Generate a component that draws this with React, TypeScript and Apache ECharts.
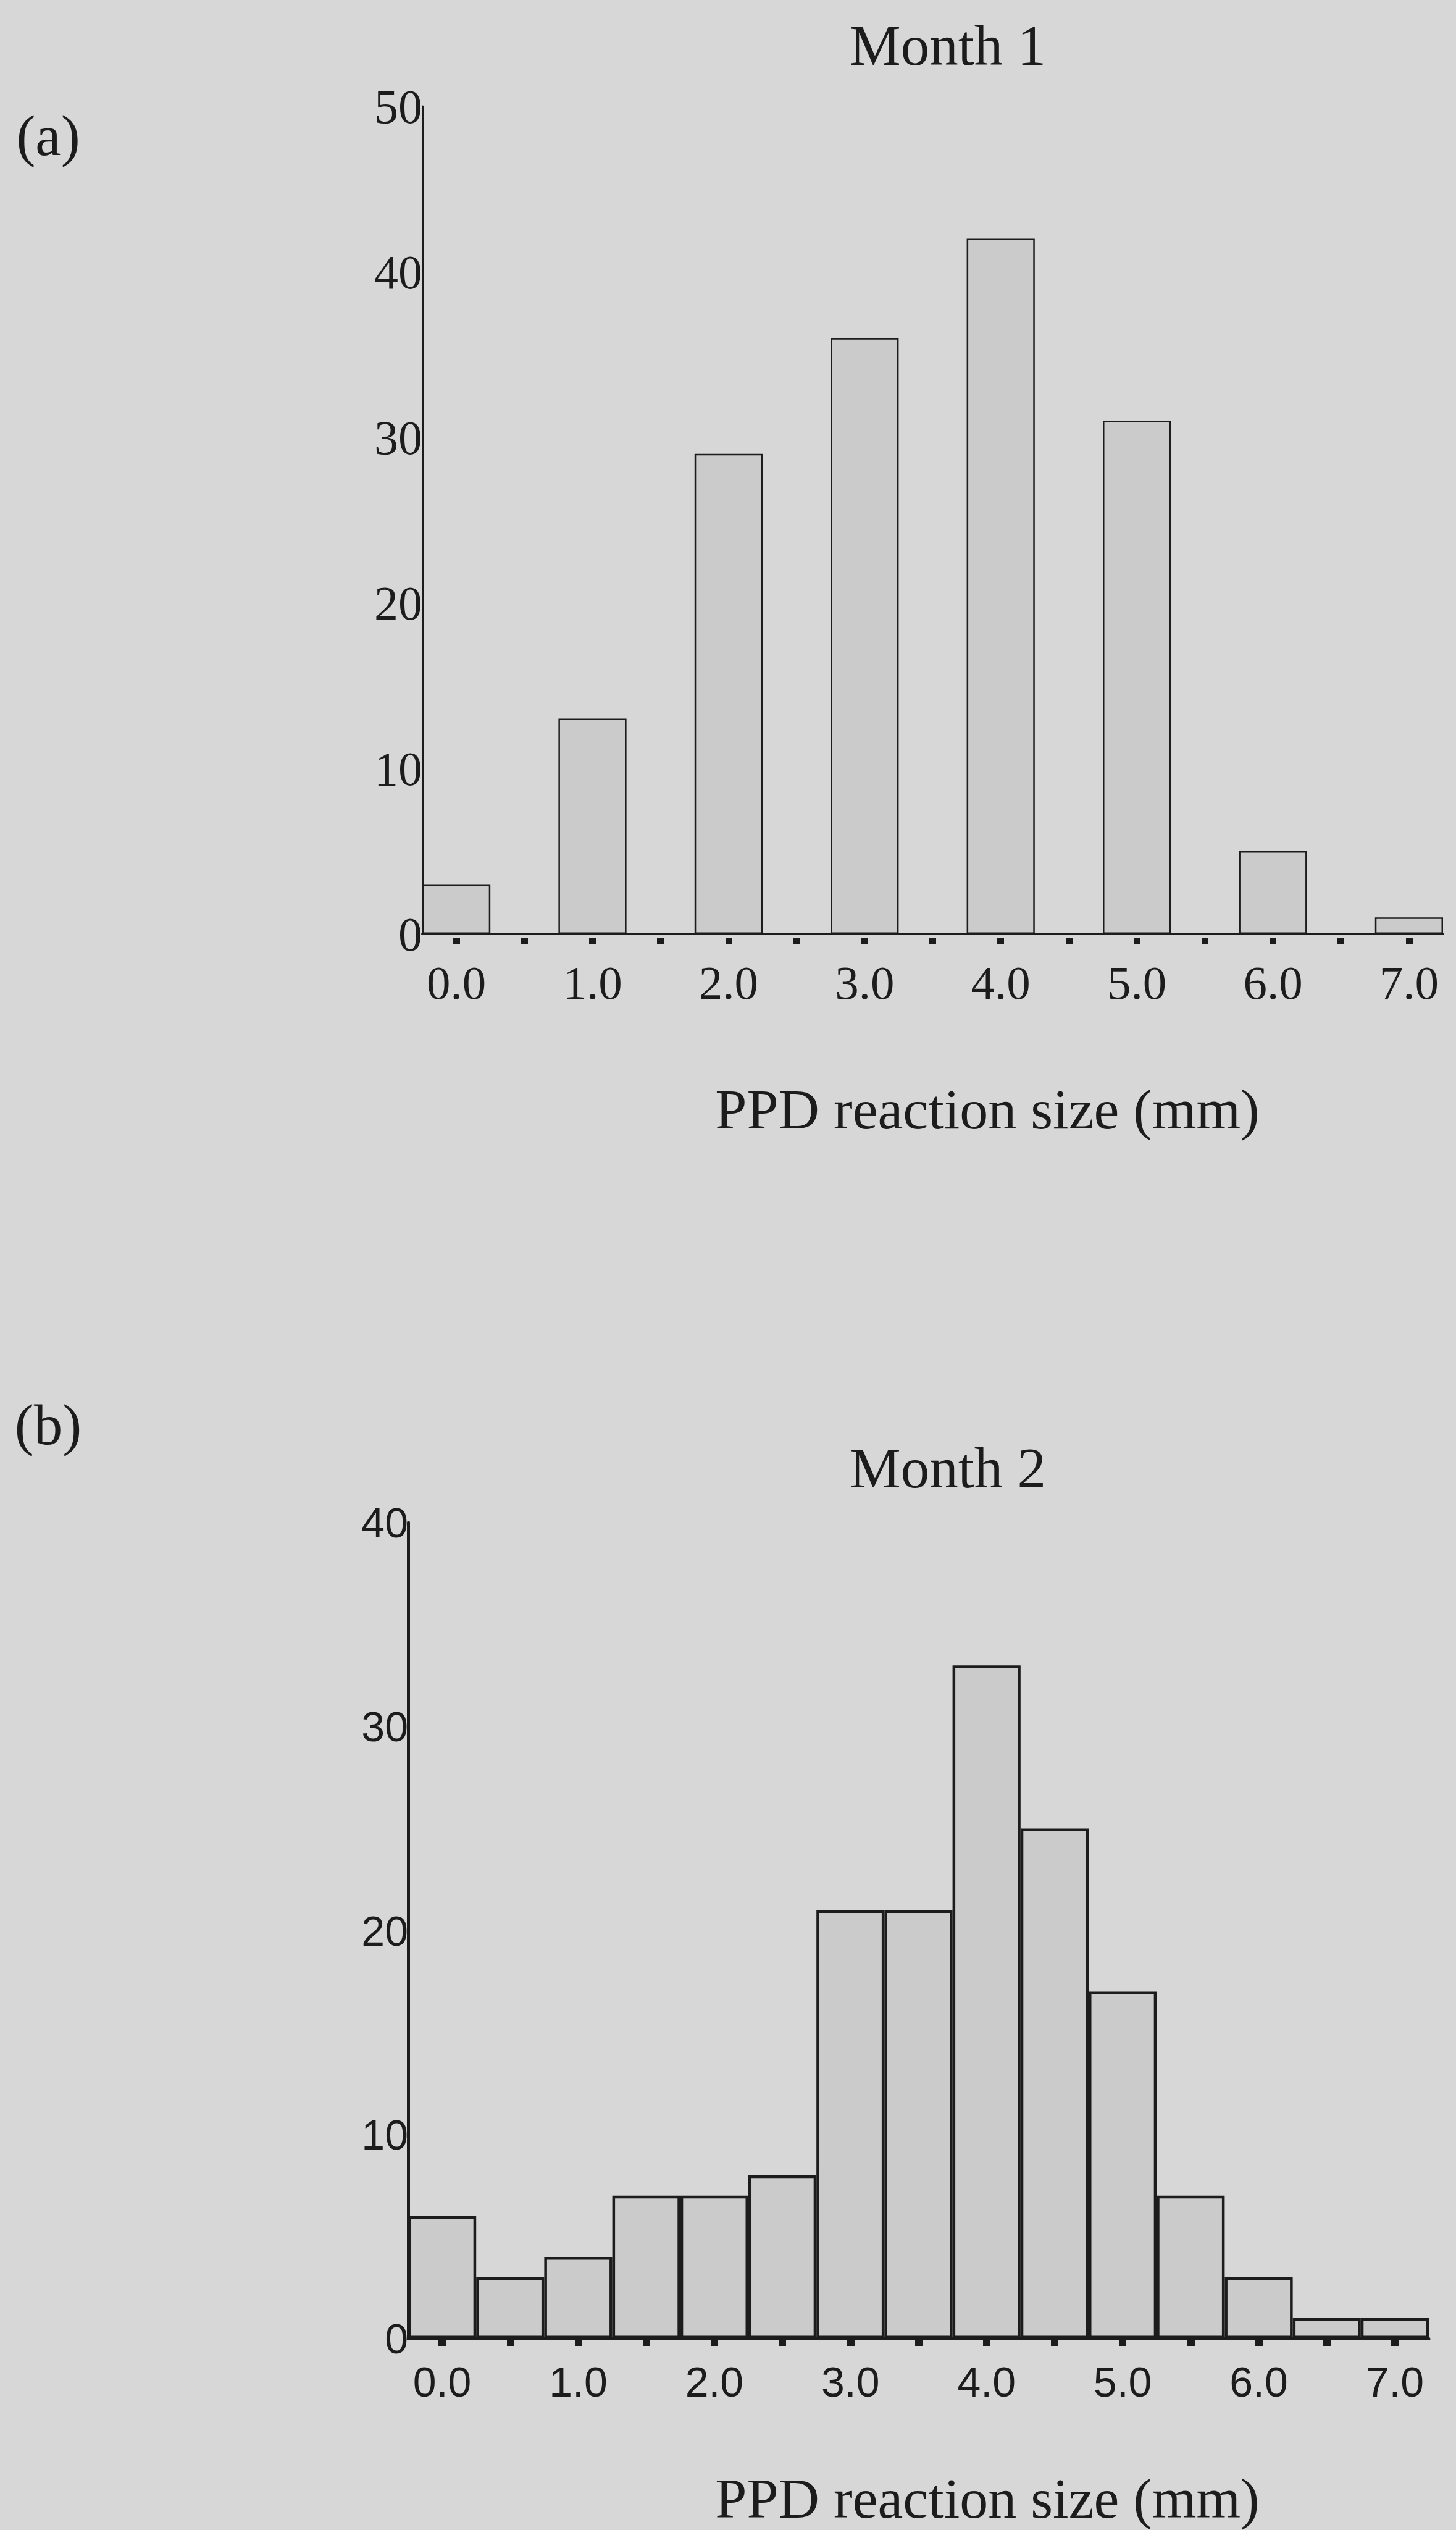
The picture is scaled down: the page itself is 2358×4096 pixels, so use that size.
import React, { useEffect, useRef } from 'react';
import * as echarts from 'echarts';

// Bin centres (mm); every bin is 0.5 mm wide
const binLabels = ['0.0', '0.5', '1.0', '1.5', '2.0', '2.5', '3.0', '3.5', '4.0', '4.5', '5.0', '5.5', '6.0', '6.5', '7.0'];
// Month 1: counts only at whole millimetres
const month1Counts = [3, null, 13, null, 29, null, 36, null, 42, null, 31, null, 5, null, 1];
// Month 2: counts at every half millimetre
const month2Counts = [6, 3, 4, 7, 7, 8, 21, 21, 33, 25, 17, 7, 3, 1, 1];

const month1YMax = 50;
const month2YMax = 40;
const yInterval = 10;

const panelTitles = ['Month 1', 'Month 2'];
const panelLetters = ['(a)', '(b)'];
const xAxisTitle = 'PPD reaction size (mm)';

const INK = '#1c1c1c';
const BG = '#d7d7d7';
const BAR = '#cbcbcb';
const SERIF = '"Liberation Serif", "Times New Roman", serif';
const SANS = '"Liberation Sans", Arial, sans-serif';

export default function App() {
  const ref = useRef<HTMLDivElement>(null);

  useEffect(() => {
    if (!ref.current) return;
    const chart = echarts.init(ref.current, undefined, { renderer: 'svg' });

    const text = (t: string, x: number, y: number, size: number, family: string) => ({
      type: 'text',
      x,
      y,
      style: {
        text: t,
        font: `${size}px ${family}`,
        fill: INK,
        textAlign: 'center',
        textVerticalAlign: 'middle',
        align: 'center',
        verticalAlign: 'middle',
      },
    });

    const option: any = {
      animation: false,
      backgroundColor: BG,
      grid: [
        { left: 684, top: 172, width: 1653, height: 1340 },
        { left: 661, top: 2465, width: 1653, height: 1321 },
      ],
      xAxis: [
        {
          gridIndex: 0,
          type: 'category',
          data: binLabels,
          boundaryGap: true,
          axisLine: { show: true, lineStyle: { color: INK, width: 4 } },
          axisTick: {
            show: true,
            alignWithLabel: true,
            interval: 0,
            length: 16,
            lineStyle: { color: INK, width: 11, type: [9, 7], dashOffset: 9 },
          },
          axisLabel: { interval: 1, margin: 40, fontFamily: SERIF, fontSize: 77, color: INK },
          splitLine: { show: false },
        },
        {
          gridIndex: 1,
          type: 'category',
          data: binLabels,
          boundaryGap: true,
          axisLine: { show: true, lineStyle: { color: INK, width: 5 } },
          axisTick: {
            show: true,
            alignWithLabel: true,
            interval: 0,
            length: 12,
            lineStyle: { color: INK, width: 12 },
          },
          axisLabel: { interval: 1, margin: 36, fontFamily: SANS, fontSize: 68, color: INK },
          splitLine: { show: false },
        },
      ],
      yAxis: [
        {
          gridIndex: 0,
          type: 'value',
          min: 0,
          max: month1YMax,
          interval: yInterval,
          axisLine: { show: true, lineStyle: { color: INK, width: 3 } },
          axisTick: { show: false },
          splitLine: { show: false },
          axisLabel: { margin: 0, fontFamily: SERIF, fontSize: 78, color: INK },
        },
        {
          gridIndex: 1,
          type: 'value',
          min: 0,
          max: month2YMax,
          interval: yInterval,
          axisLine: { show: true, lineStyle: { color: INK, width: 5 } },
          axisTick: { show: false },
          splitLine: { show: false },
          axisLabel: { margin: 0, fontFamily: SANS, fontSize: 68, color: INK },
        },
      ],
      series: [
        {
          type: 'bar',
          xAxisIndex: 0,
          yAxisIndex: 0,
          data: month1Counts,
          barWidth: '100%',
          itemStyle: { color: BAR, borderColor: INK, borderWidth: 2.5 },
        },
        {
          type: 'bar',
          xAxisIndex: 1,
          yAxisIndex: 1,
          data: month2Counts,
          barWidth: '100%',
          itemStyle: { color: BAR, borderColor: INK, borderWidth: 4.5 },
        },
      ],
      graphic: [
        text(panelTitles[0], 1535, 73, 93, SERIF),
        text(panelLetters[0], 78, 219, 93, SERIF),
        text(xAxisTitle, 1599, 1796, 92, SERIF),
        text(panelLetters[1], 78, 2306, 93, SERIF),
        text(panelTitles[1], 1535, 2376, 93, SERIF),
        text(xAxisTitle, 1599, 4045, 92, SERIF),
      ],
    };

    chart.setOption(option);
    return () => chart.dispose();
  }, []);

  return (
    <div
      ref={ref}
      style={{ position: 'absolute', left: 0, top: 0, width: 2358, height: 4096, background: BG }}
    />
  );
}
